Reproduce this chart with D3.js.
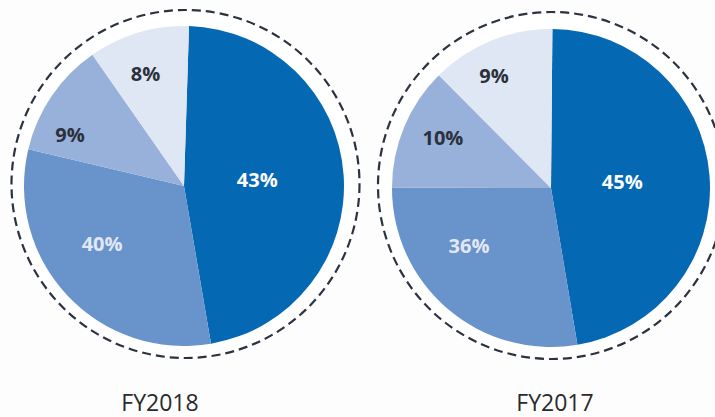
<!DOCTYPE html>
<html>
<head>
<meta charset="utf-8">
<script src="https://cdn.jsdelivr.net/npm/d3@7"></script>
<style>
  html, body { margin: 0; padding: 0; background: #fdfdfd; }
  svg { display: block; }
</style>
</head>
<body>
<div id="container"></div>
<script>
/* DATA */
const years = ["FY2018", "FY2017"];
const categories = ["A", "B", "C", "D"];
// printed labels
const labels2018 = ["43%", "40%", "9%", "8%"];
const labels2017 = ["45%", "36%", "10%", "9%"];
// slice sizes as they are drawn in the picture (share of the circle, %)
const shares2018 = [46.8, 31.4, 11.6, 10.2];
const shares2017 = [47.2, 27.7, 12.5, 12.6];

/* CONSTANTS */
const width = 715, height = 417;
const colors = ["#0468b3", "#6893cb", "#97b1db", "#dfe6f4"];
const labelColors = ["#ffffff", "#e2e8f3", "#2b303a", "#2b303a"];

// layout for each pie
const pies = [
  { year: years[0], shares: shares2018, labels: labels2018,
    cx: 184, cy: 186, r: 160, start: 1.8,
    ring: { cx: 185.5, cy: 184, r: 174 }, titleX: 160,
    // label placement: [angle in degrees, radius fraction]
    labelPolar: [[85, 0.46], [235, 0.625], [294, 0.78], [341, 0.74]] },
  { year: years[1], shares: shares2017, labels: labels2017,
    cx: 551, cy: 188, r: 159, start: 0.5,
    ring: { cx: 551.5, cy: 185.5, r: 173.5 }, titleX: 555,
    labelPolar: [[85, 0.45], [235, 0.63], [295, 0.75], [333, 0.79]] }
];

const svg = d3.select("#container")
  .append("svg")
  .attr("width", width)
  .attr("height", height);

const color = d3.scaleOrdinal().domain(categories).range(colors);
const rad = d => d * Math.PI / 180;

pies.forEach(p => {
  const data = categories.map((c, i) => ({ cat: c, value: p.shares[i], label: p.labels[i], i }));

  const pie = d3.pie()
    .sort(null)
    .value(d => d.value)
    .startAngle(rad(p.start))
    .endAngle(rad(p.start) + 2 * Math.PI);

  const arc = d3.arc().innerRadius(0).outerRadius(p.r);

  // dashed ring
  svg.append("circle")
    .attr("cx", p.ring.cx)
    .attr("cy", p.ring.cy)
    .attr("r", p.ring.r)
    .attr("fill", "#ffffff")
    .attr("stroke", "#2c3340")
    .attr("stroke-width", 2.2)
    .attr("stroke-dasharray", "9 5");

  const g = svg.append("g")
    .attr("transform", `translate(${p.cx}, ${p.cy})`);

  g.selectAll("path")
    .data(pie(data))
    .join("path")
    .attr("d", arc)
    .attr("fill", d => color(d.data.cat));

  g.selectAll("text")
    .data(data)
    .join("text")
    .attr("x", d => Math.sin(rad(p.labelPolar[d.i][0])) * p.r * p.labelPolar[d.i][1])
    .attr("y", d => -Math.cos(rad(p.labelPolar[d.i][0])) * p.r * p.labelPolar[d.i][1])
    .attr("dy", "0.36em")
    .attr("text-anchor", "middle")
    .attr("font-family", "'Open Sans', sans-serif")
    .attr("font-weight", 700)
    .attr("font-size", 20)
    .attr("fill", d => labelColors[d.i])
    .text(d => d.label);

  // year title
  svg.append("text")
    .attr("x", p.titleX)
    .attr("y", 411)
    .attr("text-anchor", "middle")
    .attr("font-family", "'Open Sans', sans-serif")
    .attr("font-size", 23)
    .attr("fill", "#2a2a2a")
    .text(p.year);
});
</script>
</body>
</html>
